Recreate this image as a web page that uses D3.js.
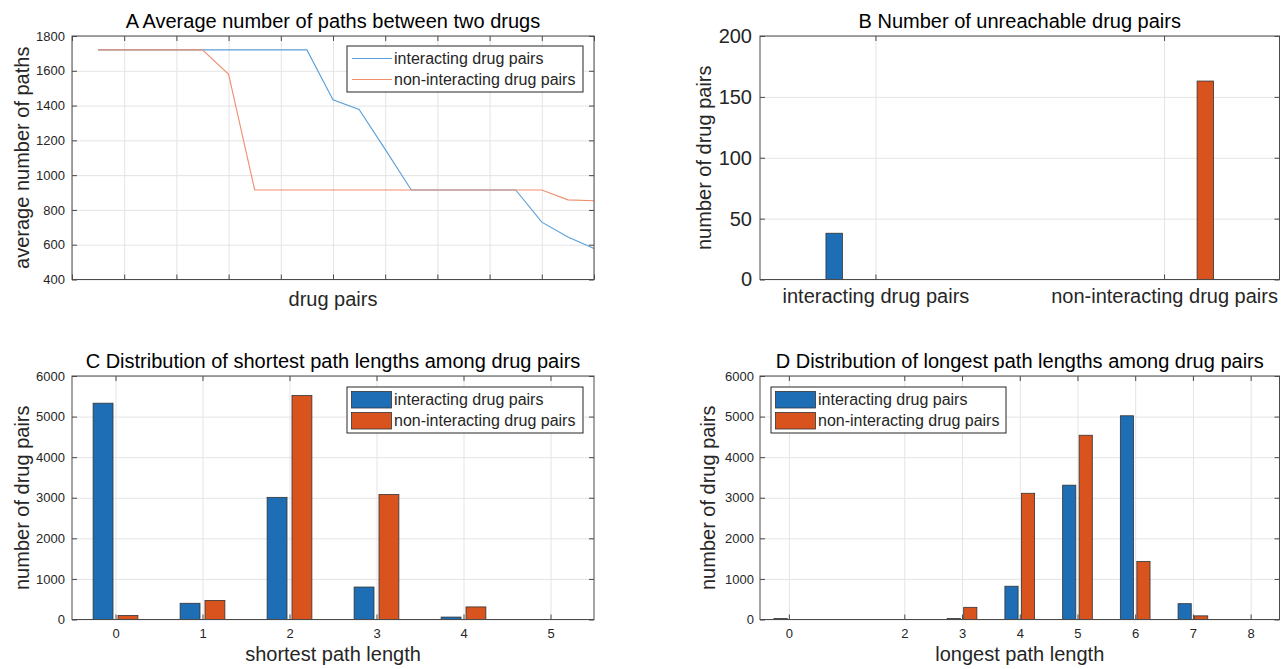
<!DOCTYPE html>
<html>
<head>
<meta charset="utf-8">
<script src="https://cdn.jsdelivr.net/npm/d3@7"></script>
<style>
  body { margin: 0; background: #fff; }
  svg { display: block; font-family: "Liberation Sans", Arial, Helvetica, sans-serif; }
</style>
</head>
<body>
<div class="viz"></div>
<script>
/* globals d3 */
// A: average number of paths for each drug pair (index along the x axis)
const pairIndex = [1, 2, 3, 4, 5, 6, 7, 8, 9, 10, 11, 12, 13, 14, 15, 16, 17, 18, 19, 20];
const avgPathsInteracting = [1720, 1720, 1720, 1720, 1720, 1720, 1720, 1720, 1720, 1433, 1378, 1148, 915, 915, 915, 915, 915, 730, 645, 578];
const avgPathsNonInteracting = [1720, 1720, 1720, 1720, 1720, 1580, 915, 915, 915, 915, 915, 915, 915, 915, 915, 915, 915, 915, 858, 853];
const pairTicks = [0, 2, 4, 6, 8, 10, 12, 14, 16, 18, 20];
const avgPathsTicks = [400, 600, 800, 1000, 1200, 1400, 1600, 1800];

// B: number of unreachable drug pairs
const groupLabels = ['interacting drug pairs', 'non-interacting drug pairs'];
const unreachableInteracting = [38, 0];
const unreachableNonInteracting = [0, 163];
const unreachableTicks = [0, 50, 100, 150, 200];

// C: shortest path lengths
const shortestLengths = [0, 1, 2, 3, 4, 5];
const shortestInteracting = [5330, 400, 3010, 800, 60, 0];
const shortestNonInteracting = [100, 470, 5520, 3080, 310, 0];

// D: longest path lengths
const longestLengths = [0, 2, 3, 4, 5, 6, 7, 8];
const longestInteracting = [25, 0, 25, 820, 3310, 5020, 390, 0];
const longestNonInteracting = [0, 0, 300, 3110, 4540, 1430, 90, 0];

const countTicks = [0, 1000, 2000, 3000, 4000, 5000, 6000];
const seriesNames = ['interacting drug pairs', 'non-interacting drug pairs'];

const barColors = ['#1d6eb5', '#d9531e'];
const lineColors = ['#5a9fd7', '#ef8e6e'];
const axisColor = '#4a4a4a';
const textColor = '#262626';
const gridColor = '#e4e4e4';

// positions of the four axes boxes
const colLeft = [72, 594];
const colRight = [760, 1279.5];
const rowTop = [36, 279.5];
const rowBottom = [376, 619.5];

const svg = d3
  .select('.viz')
  .append('svg')
  .attr('width', 1281)
  .attr('height', 669);

function drawFrame(xScale, yScale, opts) {
  const [x0, x1] = xScale.range();
  const [y1, y0] = yScale.range();
  const g = svg.append('g');

  // grid lines
  g.append('g')
    .attr('transform', `translate(0 ${y1})`)
    .call(d3.axisBottom(xScale).tickValues(opts.xTicks).tickSize(-(y1 - y0)).tickFormat(''))
    .call(s => s.select('.domain').remove())
    .selectAll('line')
    .attr('stroke', gridColor);
  g.append('g')
    .attr('transform', `translate(${x0} 0)`)
    .call(d3.axisLeft(yScale).tickValues(opts.yTicks).tickSize(-(x1 - x0)).tickFormat(''))
    .call(s => s.select('.domain').remove())
    .selectAll('line')
    .attr('stroke', gridColor);

  const plot = g.append('g');

  const frame = g.append('g');
  // inward ticks on every side, labels on bottom and left
  const styleAxis = (s, size) => {
    s.select('.domain').remove();
    s.attr('font-family', null).attr('font-size', size).attr('color', axisColor);
    s.selectAll('text').attr('fill', textColor);
  };
  frame.append('g')
    .attr('transform', `translate(0 ${y1})`)
    .call(d3.axisBottom(xScale).tickValues(opts.xTicks).tickSize(-5).tickPadding(opts.xPad)
      .tickFormat(opts.xFormat))
    .call(s => styleAxis(s, opts.xFont));
  frame.append('g')
    .attr('transform', `translate(0 ${y0})`)
    .call(d3.axisTop(xScale).tickValues(opts.xTicks).tickSize(-5).tickFormat(''))
    .call(s => styleAxis(s, opts.xFont));
  frame.append('g')
    .attr('transform', `translate(${x0} 0)`)
    .call(d3.axisLeft(yScale).tickValues(opts.yTicks).tickSize(-5).tickPadding(opts.yPad)
      .tickFormat(d3.format('d')))
    .call(s => styleAxis(s, opts.yFont));
  frame.append('g')
    .attr('transform', `translate(${x1} 0)`)
    .call(d3.axisRight(yScale).tickValues(opts.yTicks).tickSize(-5).tickFormat(''))
    .call(s => styleAxis(s, opts.yFont));

  frame.append('rect')
    .attr('x', x0)
    .attr('y', y0)
    .attr('width', x1 - x0)
    .attr('height', y1 - y0)
    .attr('fill', 'none')
    .attr('stroke', axisColor);

  // title and axis labels
  frame.append('text')
    .attr('x', (x0 + x1) / 2)
    .attr('y', y0 - 8)
    .attr('text-anchor', 'middle')
    .attr('font-size', 20)
    .attr('fill', '#000')
    .text(opts.title);
  if (opts.xLabel) {
    frame.append('text')
      .attr('x', (x0 + x1) / 2)
      .attr('y', opts.xLabelY)
      .attr('text-anchor', 'middle')
      .attr('font-size', 20)
      .attr('fill', textColor)
      .text(opts.xLabel);
  }
  frame.append('text')
    .attr('transform', `translate(${opts.yLabelX} ${(y0 + y1) / 2}) rotate(-90)`)
    .attr('text-anchor', 'middle')
    .attr('font-size', 20)
    .attr('fill', textColor)
    .text(opts.yLabel);

  return { plot, frame };
}

function drawLegend(layer, x, y, w, kind, colors) {
  const legend = layer.append('g').attr('transform', `translate(${x} ${y})`);
  legend.append('rect')
    .attr('width', w)
    .attr('height', 46)
    .attr('fill', '#fff')
    .attr('stroke', textColor);
  seriesNames.forEach((name, i) => {
    const cy = 12.5 + i * 21;
    if (kind === 'line') {
      legend.append('line')
        .attr('x1', 5).attr('x2', 45)
        .attr('y1', cy).attr('y2', cy)
        .attr('stroke', colors[i]);
    } else {
      legend.append('rect')
        .attr('x', 4.5).attr('y', cy - 8)
        .attr('width', 40).attr('height', 16.5)
        .attr('fill', colors[i])
        .attr('stroke', '#333')
        .attr('stroke-width', 0.8);
    }
    legend.append('text')
      .attr('x', 47)
      .attr('y', cy)
      .attr('dy', '0.35em')
      .attr('font-size', 16)
      .attr('fill', textColor)
      .text(name);
  });
}

function drawBars(layer, xScale, yScale, cats, values, offset, width, color) {
  layer.append('g')
    .selectAll('rect')
    .data(cats.map((c, i) => ({ c, v: values[i] })).filter(d => d.v > 0))
    .join('rect')
    .attr('x', d => xScale(d.c + offset - width / 2))
    .attr('y', d => yScale(d.v))
    .attr('width', xScale(width) - xScale(0))
    .attr('height', d => yScale(0) - yScale(d.v))
    .attr('fill', color)
    .attr('stroke', '#333')
    .attr('stroke-width', 0.8);
}

// A: line chart
const xA = d3.scaleLinear().domain([0, 20]).range(colLeft);
const yA = d3.scaleLinear().domain([400, 1800]).range([rowTop[1], rowTop[0]]);
const panelA = drawFrame(xA, yA, {
  xTicks: pairTicks, yTicks: avgPathsTicks, xFormat: '', xPad: 6, yPad: 7, xFont: 13, yFont: 13,
  title: 'A Average number of paths between two drugs',
  xLabel: 'drug pairs', xLabelY: 306, yLabel: 'average number of paths', yLabelX: 28.5,
});
const line = d3.line().x((d, i) => xA(pairIndex[i])).y(d => yA(d));
[avgPathsInteracting, avgPathsNonInteracting].forEach((values, i) => {
  panelA.plot.append('path')
    .attr('d', line(values))
    .attr('fill', 'none')
    .attr('stroke', lineColors[i])
    .attr('stroke-width', 1.1);
});
drawLegend(panelA.frame, 347, 46, 236, 'line', lineColors);

// B: unreachable pairs
const xB = d3.scaleLinear().domain([0.6, 2.4]).range(colRight);
const yB = d3.scaleLinear().domain([0, 200]).range([rowTop[1], rowTop[0]]);
const panelB = drawFrame(xB, yB, {
  xTicks: [1, 2], yTicks: unreachableTicks, xFormat: d => groupLabels[d - 1], xPad: 9, yPad: 8, xFont: 20, yFont: 20,
  title: 'B Number of unreachable drug pairs',
  yLabel: 'number of drug pairs', yLabelX: 711,
});
drawBars(panelB.plot, xB, yB, [1, 2], unreachableInteracting, -0.143, 0.057, barColors[0]);
drawBars(panelB.plot, xB, yB, [1, 2], unreachableNonInteracting, 0.143, 0.057, barColors[1]);

// C: shortest path lengths
const xC = d3.scaleLinear().domain([-0.5, 5.5]).range(colLeft);
const yC = d3.scaleLinear().domain([0, 6000]).range([rowBottom[1], rowBottom[0]]);
const panelC = drawFrame(xC, yC, {
  xTicks: shortestLengths, yTicks: countTicks, xFormat: d3.format('d'), xPad: 9, yPad: 7, xFont: 13, yFont: 13,
  title: 'C Distribution of shortest path lengths among drug pairs',
  xLabel: 'shortest path length', xLabelY: 661, yLabel: 'number of drug pairs', yLabelX: 28.5,
});
drawBars(panelC.plot, xC, yC, shortestLengths, shortestInteracting, -0.143, 0.2286, barColors[0]);
drawBars(panelC.plot, xC, yC, shortestLengths, shortestNonInteracting, 0.143, 0.2286, barColors[1]);
drawLegend(panelC.frame, 347, 387, 236, 'bar', barColors);

// D: longest path lengths
const xD = d3.scaleLinear().domain([-0.5, 8.5]).range(colRight);
const yD = d3.scaleLinear().domain([0, 6000]).range([rowBottom[1], rowBottom[0]]);
const panelD = drawFrame(xD, yD, {
  xTicks: longestLengths, yTicks: countTicks, xFormat: d3.format('d'), xPad: 9, yPad: 6, xFont: 13, yFont: 13,
  title: 'D Distribution of longest path lengths among drug pairs',
  xLabel: 'longest path length', xLabelY: 661, yLabel: 'number of drug pairs', yLabelX: 715,
});
drawBars(panelD.plot, xD, yD, longestLengths, longestInteracting, -0.143, 0.2286, barColors[0]);
drawBars(panelD.plot, xD, yD, longestLengths, longestNonInteracting, 0.143, 0.2286, barColors[1]);
drawLegend(panelD.frame, 771, 387, 235, 'bar', barColors);
</script>
</body>
</html>
